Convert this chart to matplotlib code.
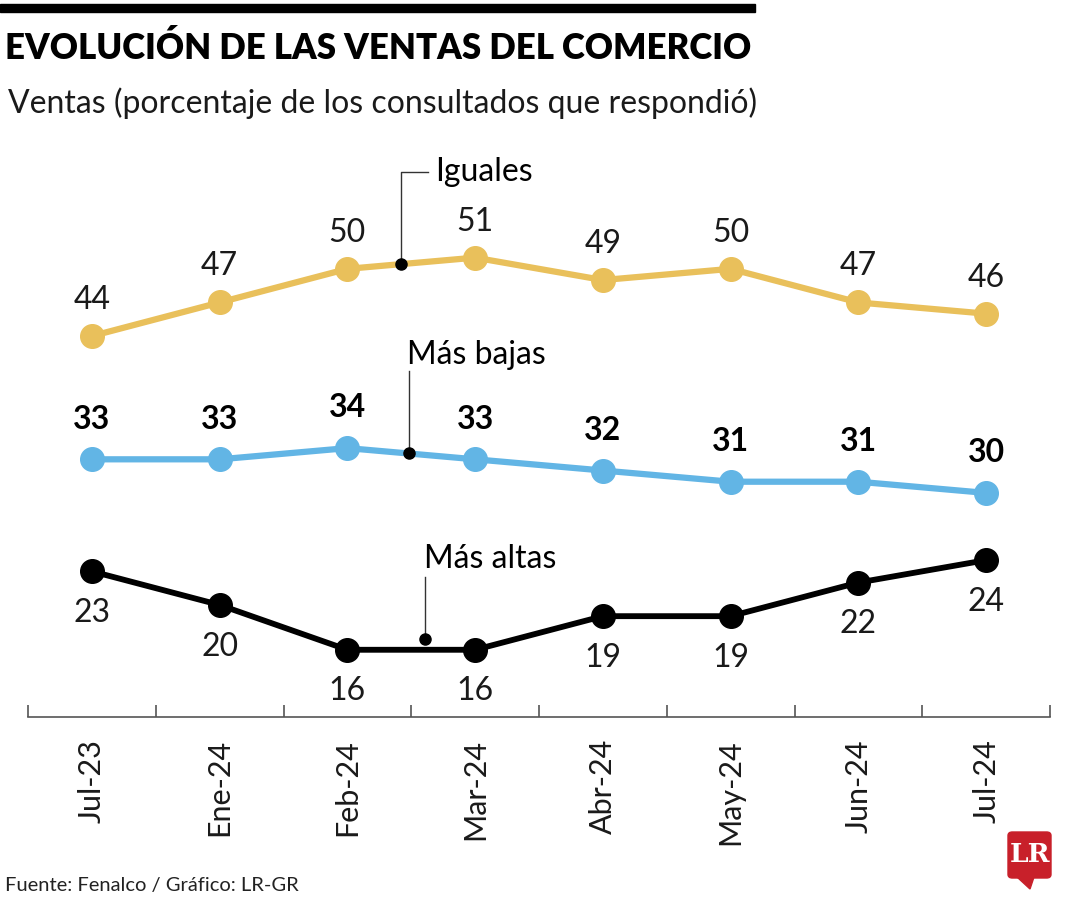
import numpy as np
import matplotlib.pyplot as plt
from matplotlib.patches import Rectangle, FancyBboxPatch, Polygon

# datos
meses = ['Jul-23', 'Ene-24', 'Feb-24', 'Mar-24', 'Abr-24', 'May-24', 'Jun-24', 'Jul-24']
iguales = [44, 47, 50, 51, 49, 50, 47, 46]
mas_bajas = [33, 33, 34, 33, 32, 31, 31, 30]
mas_altas = [23, 20, 16, 16, 19, 19, 22, 24]

c_iguales = '#E9C05B'
c_bajas = '#62B5E5'
c_altas = '#000000'
FONT = ['Lato', 'DejaVu Sans']

fig = plt.figure(figsize=(10.8, 9), dpi=100)
ax = fig.add_axes([28/1080, 1-717/900, 1022/1080, 577/900])
x = np.arange(len(meses))

ax.plot(x, iguales, color=c_iguales, lw=4.5, marker='o', ms=17, zorder=3)
ax.plot(x, mas_bajas, color=c_bajas, lw=4.5, marker='o', ms=17, zorder=3)
ax.plot(x, mas_altas, color=c_altas, lw=4.2, marker='o', ms=17, zorder=3)

for i in x:
    ax.annotate(str(iguales[i]), (i, iguales[i]), xytext=(0, 26), textcoords='offset points',
                ha='center', va='center', fontsize=23, family=FONT, color='#1a1a1a')
    ax.annotate(str(mas_bajas[i]), (i, mas_bajas[i]), xytext=(0, 29), textcoords='offset points',
                ha='center', va='center', fontsize=23, fontweight='bold', family=FONT)
    ax.annotate(str(mas_altas[i]), (i, mas_altas[i]), xytext=(0, -30), textcoords='offset points',
                ha='center', va='center', fontsize=23, family=FONT, color='#1a1a1a')

# etiquetas de series
xi = 2.42
yi = np.interp(xi, x, iguales)
ax.plot([xi], [yi], 'o', color='black', ms=8, zorder=4)
ax.plot([xi, xi, 2.63], [yi, 58.6, 58.6], color='#333333', lw=1)
ax.text(2.69, 58.6, 'Iguales', fontsize=23, family=FONT, va='center', ha='left')

xb = 2.48
yb = np.interp(xb, x, mas_bajas)
ax.plot([xb], [yb], 'o', color='black', ms=8, zorder=4)
ax.plot([xb, xb], [yb, 40.9], color='#333333', lw=1)
ax.text(2.47, 42.3, 'Más bajas', fontsize=23, family=FONT, va='center', ha='left')

xa = 2.61
ya = np.interp(xa, x, mas_altas) + 0.95
ax.plot([xa], [ya], 'o', color='black', ms=8, zorder=4)
ax.plot([xa, xa], [ya, 22.5], color='#333333', lw=1)
ax.text(2.6, 24.1, 'Más altas', fontsize=23, family=FONT, va='center', ha='left')

ax.set_xlim(-0.5, 7.5)
ax.set_ylim(10, 61.5)
for s in ['top', 'right', 'left']:
    ax.spines[s].set_visible(False)
ax.spines['bottom'].set_color('#555555')
ax.spines['bottom'].set_linewidth(1.2)
ax.set_yticks([])
ax.set_xticks(np.arange(-0.5, 8, 1))
ax.set_xticklabels([])
ax.set_xticks(x, minor=True)
ax.set_xticklabels(meses, minor=True, rotation=90, fontsize=22, family=FONT, color='#1a1a1a')
ax.tick_params(axis='x', which='major', direction='in', length=9, width=1.2, color='#555555')
ax.tick_params(axis='x', which='minor', length=0, pad=16)

# encabezado
fig.patches.append(Rectangle((0, 1-12/900), 755/1080, 8/900, transform=fig.transFigure,
                             color='black', zorder=5))
fig.text(5/1080, 1-48/900, 'EVOLUCIÓN DE LAS VENTAS DEL COMERCIO', fontsize=25, fontweight='heavy',
         family=FONT, va='center', ha='left')
fig.text(8/1080, 1-103/900, 'Ventas (porcentaje de los consultados que respondió)', fontsize=23,
         family=FONT, va='center', ha='left', color='#1a1a1a')
fig.text(5/1080, 1-885/900, 'Fuente: Fenalco / Gráfico: LR-GR', fontsize=14.5, family=FONT,
         va='center', ha='left', color='#222222')

# logo
fig.patches.append(FancyBboxPatch((1008/1080, 1-878/900), 43/1080, 46/900,
                                  boxstyle='round,pad=0,rounding_size=0.004',
                                  transform=fig.transFigure, color='#C8202A'))
fig.patches.append(Polygon([(1017/1080, 1-877/900), (1034/1080, 1-877/900), (1030/1080, 1-889/900)],
                           closed=True, transform=fig.transFigure, color='#C8202A'))
fig.text(1030/1080, 1-855/900, 'LR', fontsize=19, fontweight='bold', family='DejaVu Serif',
         color='white', ha='center', va='center')

fig.savefig('out.png', dpi=100)
